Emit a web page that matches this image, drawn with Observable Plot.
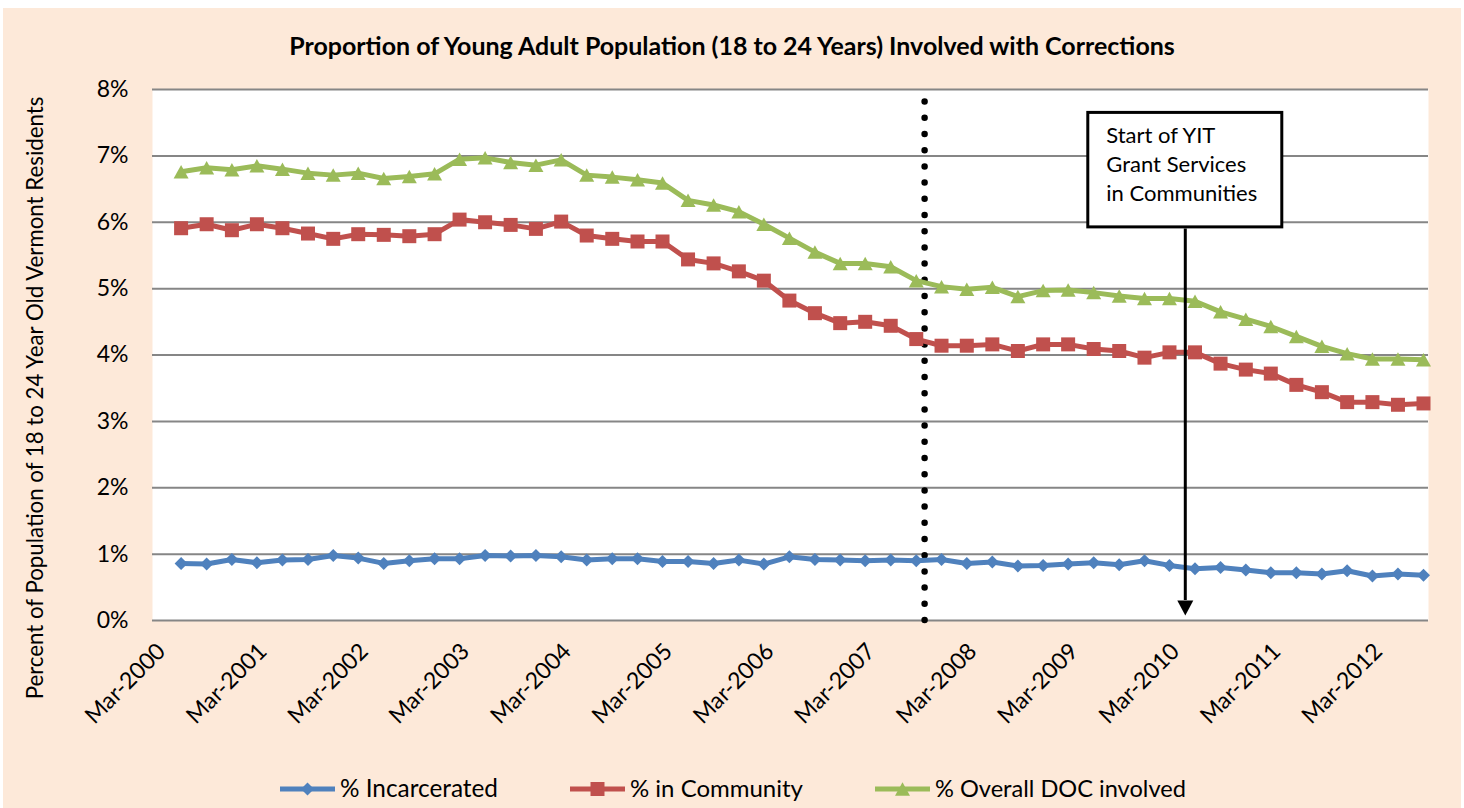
<!DOCTYPE html>
<html>
<head>
<meta charset="utf-8">
<script src="https://cdn.jsdelivr.net/npm/d3@7"></script>
<script src="https://cdn.jsdelivr.net/npm/@observablehq/plot@0.6"></script>
<style>
  html, body { margin: 0; padding: 0; background: #ffffff; }
  #chart { position: relative; width: 1464px; height: 808px; overflow: hidden; font-family: Lato, "Open Sans", sans-serif; }
  #bg { position: absolute; left: 3px; top: 8px; width: 1458px; height: 800px; background: #FDE9D9; }
  #chart svg { position: absolute; left: 0; top: 0; }
</style>
</head>
<body>
<div id="chart"><div id="bg"></div></div>
<script>
// ---------------- data ----------------
const quarters = [
  "Jun-2000","Sep-2000","Dec-2000",
  "Mar-2001","Jun-2001","Sep-2001","Dec-2001",
  "Mar-2002","Jun-2002","Sep-2002","Dec-2002",
  "Mar-2003","Jun-2003","Sep-2003","Dec-2003",
  "Mar-2004","Jun-2004","Sep-2004","Dec-2004",
  "Mar-2005","Jun-2005","Sep-2005","Dec-2005",
  "Mar-2006","Jun-2006","Sep-2006","Dec-2006",
  "Mar-2007","Jun-2007","Sep-2007","Dec-2007",
  "Mar-2008","Jun-2008","Sep-2008","Dec-2008",
  "Mar-2009","Jun-2009","Sep-2009","Dec-2009",
  "Mar-2010","Jun-2010","Sep-2010","Dec-2010",
  "Mar-2011","Jun-2011","Sep-2011","Dec-2011",
  "Mar-2012","Jun-2012","Sep-2012"
];
// values in percent
const incarcerated = [
  0.86,0.85,0.92,0.87,0.91,0.92,0.98,0.94,0.86,0.90,0.93,0.93,0.98,0.97,0.98,0.96,0.91,
  0.93,0.93,0.89,0.89,0.86,0.91,0.85,0.96,0.92,0.91,0.90,0.91,0.90,0.92,0.86,0.88,0.82,
  0.83,0.85,0.87,0.84,0.90,0.83,0.78,0.80,0.76,0.72,0.72,0.70,0.75,0.67,0.70,0.68
];
const inCommunity = [
  5.91,5.97,5.88,5.97,5.91,5.83,5.75,5.82,5.81,5.79,5.82,6.04,6.00,5.96,5.90,6.01,5.80,
  5.75,5.71,5.71,5.44,5.38,5.26,5.12,4.82,4.63,4.48,4.50,4.44,4.24,4.14,4.14,4.16,4.06,
  4.16,4.16,4.09,4.06,3.96,4.04,4.04,3.87,3.78,3.72,3.55,3.44,3.29,3.29,3.25,3.27
];
const overallDOC = [
  6.76,6.82,6.79,6.85,6.80,6.74,6.71,6.74,6.66,6.69,6.73,6.95,6.97,6.90,6.86,6.94,6.71,
  6.68,6.64,6.59,6.33,6.26,6.16,5.97,5.76,5.55,5.38,5.38,5.33,5.12,5.03,4.99,5.02,4.88,
  4.97,4.98,4.94,4.89,4.85,4.85,4.81,4.65,4.54,4.43,4.28,4.13,4.02,3.94,3.94,3.93
];
const seriesNames = ["% Incarcerated", "% in Community", "% Overall DOC involved"];
const seriesColors = ["#4F81BD", "#C0504D", "#9BBB59"];
const xTickLabels = ["Mar-2000","Mar-2001","Mar-2002","Mar-2003","Mar-2004","Mar-2005","Mar-2006",
                     "Mar-2007","Mar-2008","Mar-2009","Mar-2010","Mar-2011","Mar-2012"];
const yTicks = [0, 1, 2, 3, 4, 5, 6, 7, 8];
const titleText = "Proportion of Young Adult Population (18 to 24 Years) Involved with Corrections";
const yLabelText = "Percent of Population of 18 to 24 Year Old Vermont Residents";
const boxLines = ["Start of YIT", "Grant Services", "in Communities"];
// annotations
const dottedLineDate = "2007-10-01";
const dottedLineTop = 7.88;
const yitDate = "2010-04-27";
const boxTopValue = 7.67, boxBottomValue = 5.90;

// ---------------- build ----------------
const parseQ = d3.utcParse("%b-%Y");
const parseD = d3.utcParse("%Y-%m-%d");
const rows = quarters.map((q, i) => ({date: parseQ(q), inc: incarcerated[i], com: inCommunity[i], all: overallDOC[i]}));
const xTicks = xTickLabels.map(parseQ);
const fmtX = d3.utcFormat("%b-%Y");

const mkSym = f => ({draw(ctx) { f(ctx); }});
const diamondSym = mkSym(c => { const a = 6.5; c.moveTo(0,-a); c.lineTo(a,0); c.lineTo(0,a); c.lineTo(-a,0); c.closePath(); });
const squareSym  = mkSym(c => { const a = 7; c.moveTo(-a,-a); c.lineTo(a,-a); c.lineTo(a,a); c.lineTo(-a,a); c.closePath(); });
const triSym     = mkSym(c => { c.moveTo(0,-6.75); c.lineTo(7.5,6.75); c.lineTo(-7.5,6.75); c.closePath(); });
const headSym    = mkSym(c => { c.moveTo(0,0); c.lineTo(-8,-15); c.lineTo(8,-15); c.closePath(); });
const syms = [diamondSym, squareSym, triSym];
const keys = ["inc", "com", "all"];

const marks = [
  Plot.frame({fill: "#ffffff", stroke: "none"}),
  Plot.gridY(yTicks, {stroke: "#868686", strokeOpacity: 1, strokeWidth: 2}),
  Plot.axisY(yTicks, {tickSize: 0, tickPadding: 24, tickFormat: d => `${d}%`, fontSize: 23, label: null}),
  Plot.axisX(xTicks, {tickSize: 0, tickRotate: -45, tickPadding: 27, dx: 6, tickFormat: fmtX, fontSize: 23, label: null}),
  Plot.ruleX([parseD(dottedLineDate)], {y1: 0, y2: dottedLineTop, stroke: "#000", strokeWidth: 6.5, strokeDasharray: "0 16.2", strokeLinecap: "round"})
];
keys.forEach((k, i) => {
  marks.push(Plot.line(rows, {x: "date", y: k, stroke: seriesColors[i], strokeWidth: 5}));
});
keys.forEach((k, i) => {
  marks.push(Plot.dot(rows, {x: "date", y: k, symbol: syms[i], r: 6, fill: seriesColors[i], stroke: "none"}));
});
marks.push(Plot.ruleX([parseD(yitDate)], {y1: 0.3, y2: boxBottomValue, stroke: "#000", strokeWidth: 3}));
marks.push(Plot.dot([parseD(yitDate)], {x: d => d, y: 0.075, symbol: headSym, r: 6, fill: "#000", stroke: "none"}));

const plot = Plot.plot({
  width: 1464, height: 808,
  marginLeft: 152, marginRight: 36, marginTop: 89, marginBottom: 188,
  style: {fontFamily: "Lato, 'Open Sans', sans-serif", fontSize: "20px", color: "#000", background: "transparent", overflow: "visible"},
  x: {type: "utc", domain: [new Date(Date.UTC(2000, 1, 19)), new Date(Date.UTC(2012, 8, 19))]},
  y: {domain: [0, 8]},
  marks
});
document.getElementById("chart").appendChild(plot);

// ---------------- overlay text (title, y label, legend, box) ----------------
const xs = plot.scale("x"), ys = plot.scale("y");
const ov = d3.select("#chart").append("svg").attr("width", 1464).attr("height", 808)
  .style("font-family", "Lato, 'Open Sans', sans-serif");

function fit(sel, target) {
  const w = sel.node().getComputedTextLength();
  const fs = parseFloat(sel.attr("font-size"));
  if (w > 0) sel.attr("font-size", fs * target / w);
  return sel;
}

// title
fit(ov.append("text").attr("x", 732).attr("y", 55).attr("text-anchor", "middle")
  .attr("font-weight", "bold").attr("font-size", 21).attr("fill", "#000").text(titleText), 886);

// y label
fit(ov.append("text").attr("transform", "translate(43,398) rotate(-90)").attr("text-anchor", "middle")
  .attr("font-size", 19).attr("fill", "#000").text(yLabelText), 603);

// legend
const legX = [280, 570, 875];
const legW = [158, 173, 251];
seriesNames.forEach((name, i) => {
  const g = ov.append("g");
  g.append("line").attr("x1", legX[i]).attr("x2", legX[i] + 55).attr("y1", 789).attr("y2", 789)
    .attr("stroke", seriesColors[i]).attr("stroke-width", 5);
  const p = d3.path(); syms[i].draw(p);
  g.append("path").attr("d", p.toString()).attr("transform", `translate(${legX[i] + 27.5},789)`).attr("fill", seriesColors[i]);
  fit(g.append("text").attr("x", legX[i] + 60).attr("y", 797).attr("font-size", 21).attr("fill", "#000").text(name), legW[i]);
});

// annotation box
const cx = xs.apply(parseD(yitDate));
const bTop = ys.apply(boxTopValue), bBot = ys.apply(boxBottomValue);
const bw = 197;
ov.append("rect").attr("x", cx - bw / 2 + 1.5).attr("y", bTop + 1.5).attr("width", bw - 3).attr("height", bBot - bTop - 3)
  .attr("fill", "#fff").attr("stroke", "#000").attr("stroke-width", 3);
const bl = [32, 61.5, 90];
let fsBox = null;
boxLines.forEach((t, i) => {
  const s = ov.append("text").attr("x", cx - bw / 2 + 20).attr("y", bTop + bl[i]).attr("font-size", 19).attr("fill", "#000").text(t);
  if (i === 2) { fit(s, 151); fsBox = s.attr("font-size"); }
});
ov.selectAll("text").filter(function() { return boxLines.includes(this.textContent); }).attr("font-size", fsBox);
</script>
</body>
</html>
